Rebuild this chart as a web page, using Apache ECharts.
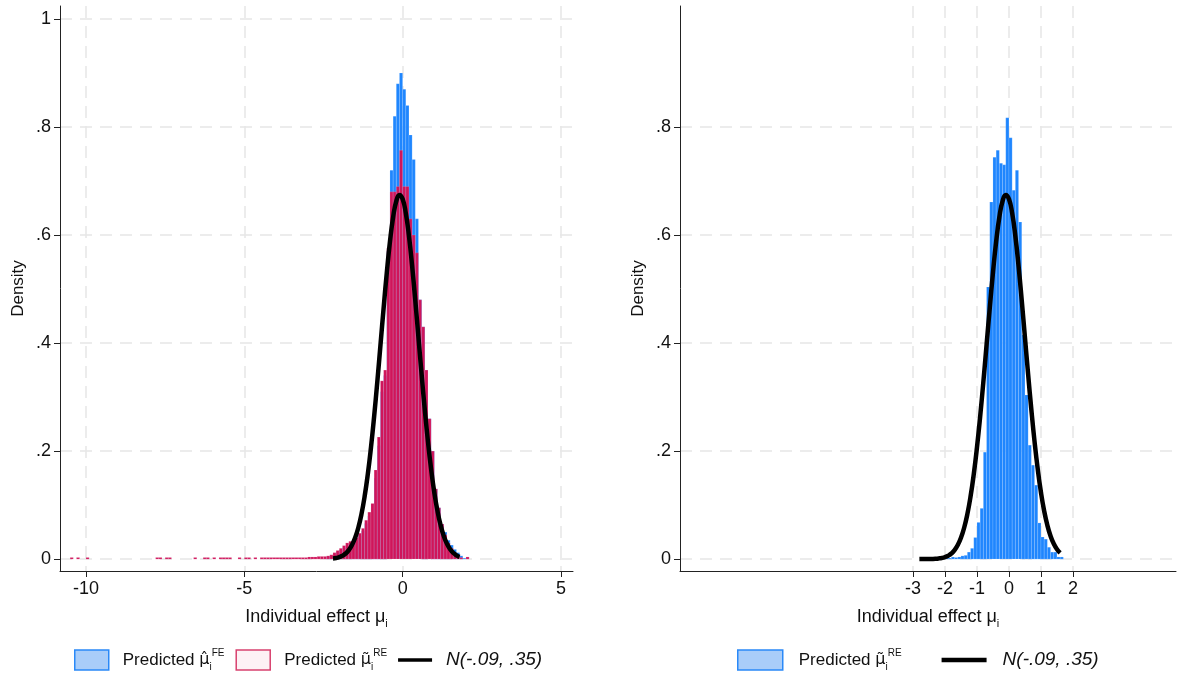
<!DOCTYPE html>
<html>
<head>
<meta charset="utf-8">
<script src="https://cdn.jsdelivr.net/npm/echarts@6/dist/echarts.min.js"></script>
<style>
  html, body { margin: 0; padding: 0; background: #fff; }
  #chart { width: 1179px; height: 677px; }
</style>
</head>
<body>
<div id="chart"></div>
<script>
const binWidth = 0.1

// left panel: left edge of each bin in the main body
const leftBinStart = [-2.4, -2.3, -2.2, -2.1, -2.0, -1.9, -1.8, -1.7, -1.6, -1.5, -1.4, -1.3, -1.2, -1.1, -1.0,
  -0.9, -0.8, -0.7, -0.6, -0.5, -0.4, -0.3, -0.2, -0.1, 0.0, 0.1, 0.2, 0.3, 0.4, 0.5, 0.6, 0.7, 0.8, 0.9,
  1.0, 1.1, 1.2, 1.3, 1.4, 1.5, 1.6, 1.7, 1.8, 1.9, 2.0]
const feDensity = [0.005, 0.006, 0.010, 0.013, 0.017, 0.021, 0.025, 0.028, 0.032, 0.036, 0.044, 0.052, 0.066, 0.080, 0.095,
  0.150, 0.210, 0.310, 0.340, 0.570, 0.720, 0.820, 0.880, 0.900, 0.870, 0.840, 0.785, 0.740, 0.630, 0.480, 0.430, 0.350, 0.260, 0.200,
  0.130, 0.095, 0.065, 0.050, 0.035, 0.026, 0.018, 0.012, 0.006, 0.002, 0]
const reDensityLeft = [0.006, 0.008, 0.012, 0.016, 0.020, 0.025, 0.030, 0.033, 0.036, 0.040, 0.048, 0.057, 0.072, 0.087, 0.103,
  0.165, 0.226, 0.330, 0.350, 0.576, 0.680, 0.680, 0.690, 0.757, 0.690, 0.690, 0.630, 0.600, 0.567, 0.480, 0.430, 0.350, 0.260, 0.200,
  0.130, 0.095, 0.065, 0.045, 0.030, 0.020, 0.012, 0.007, 0.003, 0, 0.004]
// long left tail of the RE predictions (sparse bins)
const reTailStart = [-10.5, -10.3, -10.0, -7.8, -7.7, -7.5, -7.4, -6.6, -6.3, -6.2, -6.0, -5.8, -5.7, -5.6, -5.5,
  -5.2, -5.0, -4.9, -4.7, -4.5, -4.4, -4.3, -4.2, -4.1, -4.0, -3.9, -3.8, -3.7, -3.6, -3.5, -3.4, -3.3, -3.2,
  -3.1, -3.0, -2.9, -2.8, -2.7, -2.6, -2.5]
const reTailDensity = [0.003, 0.003, 0.003, 0.003, 0.003, 0.003, 0.003, 0.003, 0.003, 0.003, 0.003, 0.003, 0.003, 0.003, 0.003,
  0.003, 0.003, 0.003, 0.003, 0.003, 0.003, 0.003, 0.003, 0.003, 0.003, 0.003, 0.003, 0.003, 0.003, 0.003, 0.003, 0.003, 0.003,
  0.003, 0.004, 0.004, 0.004, 0.005, 0.005, 0.005]

// right panel
const rightBinStart = [-2.0, -1.9, -1.8, -1.7, -1.6, -1.5, -1.4, -1.3, -1.2, -1.1, -1.0, -0.9, -0.8, -0.7, -0.6, -0.5,
  -0.4, -0.3, -0.2, -0.1, 0.0, 0.1, 0.2, 0.3, 0.4, 0.5, 0.6, 0.7, 0.8, 0.9, 1.0, 1.1, 1.2, 1.3, 1.4, 1.5, 1.6]
const reDensityRight = [0.002, 0.002, 0.004, 0.003, 0.004, 0.006, 0.007, 0.013, 0.020, 0.040, 0.068, 0.094, 0.198, 0.504, 0.661, 0.744,
  0.757, 0.733, 0.730, 0.817, 0.780, 0.683, 0.720, 0.624, 0.415, 0.304, 0.211, 0.174, 0.137, 0.067, 0.041, 0.037, 0.022, 0.013, 0.013, 0.004, 0.004]

// normal density N(-.09, .35)
const normX = [-2.8, -2.7, -2.6, -2.5, -2.4, -2.3, -2.2, -2.1, -2.0, -1.9, -1.8, -1.7, -1.6, -1.5, -1.4, -1.3, -1.2, -1.1, -1.0,
  -0.9, -0.8, -0.7, -0.6, -0.5, -0.4, -0.3, -0.2, -0.1, 0.0, 0.1, 0.2, 0.3, 0.4, 0.5, 0.6, 0.7, 0.8, 0.9,
  1.0, 1.1, 1.2, 1.3, 1.4, 1.5, 1.6, 1.7, 1.8]
const normDensity = [0.00002, 0.00004, 0.00008, 0.00017, 0.00033, 0.00063, 0.0012, 0.0021, 0.0037, 0.0063, 0.0103, 0.0166, 0.0260, 0.0394, 0.0581, 0.0833, 0.1160, 0.1570, 0.2066,
  0.2641, 0.3282, 0.3963, 0.4650, 0.5304, 0.5878, 0.6331, 0.6628, 0.6742, 0.6666, 0.6404, 0.5980, 0.5426, 0.4785, 0.4101, 0.3416, 0.2765, 0.2175, 0.1663,
  0.1235, 0.0892, 0.0626, 0.0427, 0.0283, 0.0182, 0.0114, 0.0069, 0.0041]

const leftTicks = [-10, -5, 0, 5]
const rightTicks = [-3, -2, -1, 0, 1, 2]
const leftYTicks = [0, 0.2, 0.4, 0.6, 0.8, 1]
const rightYTicks = [0, 0.2, 0.4, 0.6, 0.8]

const font = 'Liberation Sans, Arial, Helvetica, sans-serif'
const markFont = 'DejaVu Sans, Noto Sans, sans-serif'
const blue = '#1f86fe'
const pink = '#cf155b'

const legendNames = {
  fe: 'Predicted {m|μ\u0302}{sub|i}{sup|FE}',
  reL: 'Predicted {m|μ\u0303}{sub|i}{sup|RE}',
  reR: 'Predicted {m|μ\u0303}{sub|i}{sup|RE}',
  normL: '{n|N(-.09, .35)}',
  normR: '{n|N(-.09, .35)}'
}

function bins (starts, dens) {
  return starts.map((s, i) => [s, s + binWidth, dens[i]])
}

function barRender (fill) {
  return function (params, api) {
    const lo = api.coord([api.value(0), 0])
    const hi = api.coord([api.value(1), api.value(2)])
    return {
      type: 'rect',
      shape: { x: lo[0], y: hi[1], width: hi[0] - lo[0], height: lo[1] - hi[1] },
      style: { fill: fill, stroke: 'rgba(255,255,255,0.28)', lineWidth: 0.5 }
    }
  }
}

function yLabel (v) {
  if (v === 0) return '0'
  if (v === 1) return '1'
  return String(v).replace(/^0/, '')
}

function xAxisOf (idx, min, max, ticks) {
  return {
    type: 'value',
    gridIndex: idx,
    min: min,
    max: max,
    name: 'Individual effect μ{sub|i}',
    nameLocation: 'middle',
    nameGap: 34,
    nameTextStyle: {
      fontFamily: font, fontSize: 18, color: '#111', lineHeight: 24,
      rich: { sub: { fontFamily: font, fontSize: 11, lineHeight: 11, verticalAlign: 'bottom', color: '#111' } }
    },
    axisLine: { onZero: false, lineStyle: { color: '#222', width: 1 } },
    axisTick: { customValues: ticks, length: 6, lineStyle: { color: '#222' } },
    axisLabel: { customValues: ticks, fontFamily: font, fontSize: 18, color: '#111', margin: 9 },
    splitLine: { show: true, lineStyle: { color: '#e6e6e6', width: 1.5, type: [12, 8] } }
  }
}

function yAxisOf (idx, ticks) {
  return {
    type: 'value',
    gridIndex: idx,
    min: -0.022,
    max: 1.024,
    name: 'Density',
    nameLocation: 'middle',
    nameGap: 33,
    nameTextStyle: { fontFamily: font, fontSize: 17, color: '#111' },
    axisLine: { show: true, onZero: false, lineStyle: { color: '#222', width: 1 } },
    axisTick: { show: true, customValues: ticks, length: 6, lineStyle: { color: '#222' } },
    axisLabel: { customValues: ticks, formatter: yLabel, fontFamily: font, fontSize: 18, color: '#111', margin: 9 },
    splitLine: { show: true, lineStyle: { color: '#e6e6e6', width: 1.5, type: [12, 8] } }
  }
}

function legendOf (left, names, iconW, gap, pad) {
  return {
    left: left,
    top: 648,
    padding: 0,
    itemWidth: iconW,
    itemHeight: 20,
    itemGap: gap,
    selectedMode: false,
    lineStyle: { width: 4 },
    data: names.map(n => {
      if (n === 'fe' || n === 'reR') {
        return { name: n, icon: 'rect', itemStyle: { color: '#a9cdf9', borderColor: '#2a89f8', borderWidth: 1.5 } }
      }
      if (n === 'reL') {
        return { name: n, icon: 'rect', itemStyle: { color: '#fdf1f5', borderColor: '#d8416f', borderWidth: 1.5 } }
      }
      return { name: n, icon: 'path://M0 0H40V4H0Z', itemStyle: { color: '#000' } }
    }),
    formatter: n => legendNames[n],
    textStyle: {
      fontFamily: font, fontSize: 17, color: '#111', lineHeight: 24, padding: [0, 0, 0, pad],
      rich: {
        m: { fontFamily: markFont, fontSize: 16, color: '#111' },
        sub: { fontFamily: font, fontSize: 10, lineHeight: 10, verticalAlign: 'bottom', color: '#111' },
        sup: { fontFamily: font, fontSize: 10, lineHeight: 10, verticalAlign: 'top', color: '#111' },
        n: { fontFamily: font, fontSize: 19, fontStyle: 'italic', color: '#111' }
      }
    }
  }
}

const chart = echarts.init(document.getElementById('chart'), null, { renderer: 'canvas' })

const options = {
  animation: false,
  backgroundColor: '#fff',
  grid: [
    { left: 60, top: 6, width: 513, height: 565 },
    { left: 680, top: 6, width: 496, height: 565 }
  ],
  xAxis: [
    xAxisOf(0, -10.82, 5.38, leftTicks),
    xAxisOf(1, -10.28, 5.22, rightTicks)
  ],
  yAxis: [
    yAxisOf(0, leftYTicks),
    yAxisOf(1, rightYTicks)
  ],
  legend: [
    legendOf(74, ['fe', 'reL', 'normL'], 34, 11, 9),
    legendOf(737, ['reR', 'normR'], 45, 40, 11)
  ],
  series: [
    {
      name: 'fe', type: 'custom', xAxisIndex: 0, yAxisIndex: 0,
      renderItem: barRender(blue), itemStyle: { color: blue },
      encode: { x: [0, 1], y: 2 },
      data: bins(leftBinStart, feDensity)
    },
    {
      name: 'reL', type: 'custom', xAxisIndex: 0, yAxisIndex: 0,
      renderItem: barRender(pink), itemStyle: { color: pink },
      encode: { x: [0, 1], y: 2 },
      data: bins(leftBinStart, reDensityLeft).concat(bins(reTailStart, reTailDensity))
    },
    {
      name: 'normL', type: 'line', xAxisIndex: 0, yAxisIndex: 0,
      smooth: true, symbol: 'none', color: '#000',
      lineStyle: { color: '#000', width: 4.5 },
      data: normX.map((x, i) => [x, normDensity[i]]).filter(d => d[0] >= -2.2)
    },
    {
      name: 'reR', type: 'custom', xAxisIndex: 1, yAxisIndex: 1,
      renderItem: barRender(blue), itemStyle: { color: blue },
      encode: { x: [0, 1], y: 2 },
      data: bins(rightBinStart, reDensityRight)
    },
    {
      name: 'normR', type: 'line', xAxisIndex: 1, yAxisIndex: 1,
      smooth: true, symbol: 'none', color: '#000',
      lineStyle: { color: '#000', width: 4.5 },
      data: normX.map((x, i) => [x, normDensity[i]]).filter(d => d[0] <= 1.6)
    }
  ]
}

chart.setOption(options)
</script>
</body>
</html>
